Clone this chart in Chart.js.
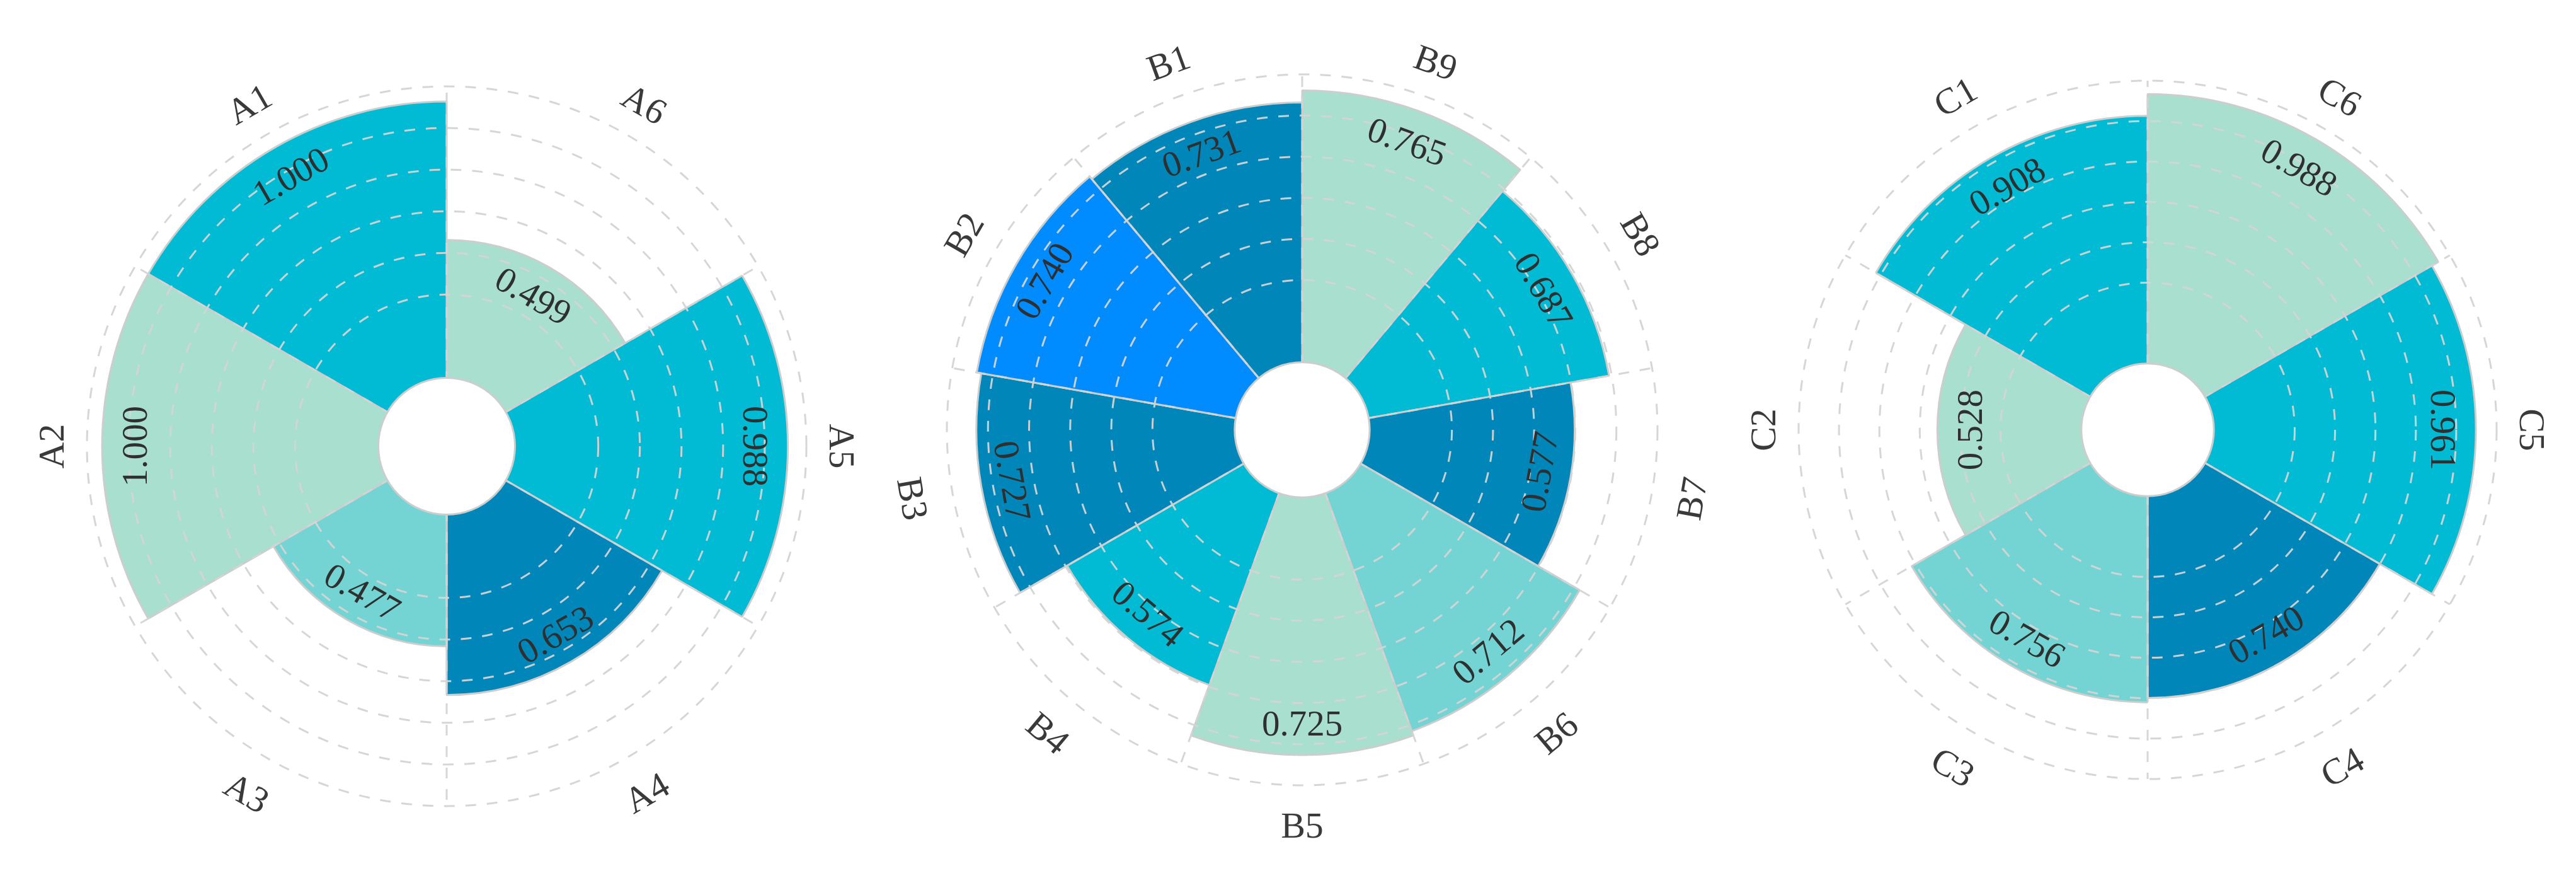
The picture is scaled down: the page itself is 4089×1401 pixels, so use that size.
<!DOCTYPE html>
<html>
<head>
<meta charset="utf-8">
<script src="https://cdn.jsdelivr.net/npm/chart.js@4.4.1/dist/chart.umd.min.js"></script>
<style>
  html, body { margin: 0; padding: 0; background: #ffffff; }
  #wrap { position: relative; width: 4089px; height: 1401px; overflow: hidden; background: #ffffff; }
  canvas { position: absolute; top: 0; }
</style>
</head>
<body>
<div id="wrap">
  <canvas id="chartA" width="1363" height="1401" style="left:0px"></canvas>
  <canvas id="chartB" width="1363" height="1401" style="left:1363px"></canvas>
  <canvas id="chartC" width="1363" height="1401" style="left:2726px"></canvas>
</div>
<script>
// ---------------- DATA ----------------
const categoriesA = ['A1', 'A2', 'A3', 'A4', 'A5', 'A6'];
const valuesA     = [1.000, 1.000, 0.477, 0.653, 0.988, 0.499];

const categoriesB = ['B1', 'B2', 'B3', 'B4', 'B5', 'B6', 'B7', 'B8', 'B9'];
const valuesB     = [0.731, 0.740, 0.727, 0.574, 0.725, 0.712, 0.577, 0.687, 0.765];

const categoriesC = ['C1', 'C2', 'C3', 'C4', 'C5', 'C6'];
const valuesC     = [0.908, 0.528, 0.756, 0.740, 0.961, 0.988];

// ---------------- STYLES ----------------
const CYAN = '#00bbd3', MINT = '#a9dfcf', TEAL = '#74d4d4', DARK = '#0086b8', BLUE = '#008cff';
const colorsA = [CYAN, MINT, TEAL, DARK, CYAN, MINT];
const colorsB = [DARK, BLUE, DARK, CYAN, MINT, TEAL, DARK, CYAN, MINT];
const colorsC = [CYAN, MINT, TEAL, DARK, CYAN, MINT];

const GRID_COLOR = 'rgba(212,212,212,0.95)';
const EDGE_COLOR = '#cdcdcd';
const HOLE_FRACTION = 0.19;   // inner hole radius / outer radius
const RING_COUNT = 7;          // ring divisions between hole and outer circle
const FIRST_RING = 2;
const TEXT_FONT = '"Liberation Serif", "Times New Roman", serif';

const overlayPlugin = {
  id: 'overlay',
  afterDraw(chart) {
    const scale = chart.scales.r;
    const ctx = chart.ctx;
    const cx = scale.xCenter, cy = scale.yCenter;
    const holeR = scale.getDistanceFromCenterForValue(0);
    ctx.save();
    // inner hole
    ctx.beginPath();
    ctx.arc(cx, cy, holeR, 0, Math.PI * 2);
    ctx.fillStyle = '#ffffff';
    ctx.fill();
    ctx.lineWidth = 3;
    ctx.strokeStyle = EDGE_COLOR;
    ctx.stroke();

    const labels = chart.data.labels;
    const data = chart.data.datasets[0].data;
    for (let i = 0; i < labels.length; i++) {
      const deg = scale.getIndexAngle(i + 0.5) * 180 / Math.PI;
      let rot = deg;
      if (deg > 90.5 && deg < 269.5) rot = deg - 180;
      const rad = rot * Math.PI / 180;
      // value label
      const pv = scale.getPointPosition(i + 0.5, scale.getDistanceFromCenterForValue(data[i]) - 51);
      ctx.save();
      ctx.translate(pv.x, pv.y);
      ctx.rotate(rad);
      ctx.font = '57px ' + TEXT_FONT;
      ctx.fillStyle = '#2f2f2f';
      ctx.textAlign = 'center';
      ctx.textBaseline = 'middle';
      ctx.fillText(data[i].toFixed(3), 0, 5);
      ctx.restore();
      // category label
      const pl = scale.getPointPosition(i + 0.5, scale.drawingArea + 60);
      ctx.save();
      ctx.translate(pl.x, pl.y);
      ctx.rotate(rad);
      ctx.font = '58px ' + TEXT_FONT;
      ctx.fillStyle = '#3a3a3a';
      ctx.textAlign = 'center';
      ctx.textBaseline = 'middle';
      ctx.fillText(labels[i], 0, 8);
      ctx.restore();
    }
    ctx.restore();
  }
};

function makeChart(id, cats, vals, colors, axisMax, pad) {
  // sectors are laid out clockwise from 12 o'clock, the reference reads counter-clockwise
  const labels = cats.slice().reverse();
  const data = vals.slice().reverse();
  const bg = colors.slice().reverse();
  const axisMin = -axisMax * HOLE_FRACTION / (1 - HOLE_FRACTION);
  const rings = [];
  for (let k = FIRST_RING; k <= RING_COUNT; k++) rings.push(axisMax * k / RING_COUNT);

  return new Chart(document.getElementById(id), {
    type: 'polarArea',
    data: {
      labels: labels,
      datasets: [{
        data: data,
        backgroundColor: bg,
        borderColor: EDGE_COLOR,
        borderWidth: 3
      }]
    },
    options: {
      responsive: false,
      animation: false,
      layout: { padding: pad },
      plugins: { legend: { display: false }, tooltip: { enabled: false } },
      scales: {
        r: {
          min: axisMin,
          max: axisMax,
          startAngle: 0,
          ticks: { display: false },
          pointLabels: { display: false },
          grid: { display: true, circular: true, color: GRID_COLOR, lineWidth: 3, z: 1 },
          border: { dash: [17, 17] },
          angleLines: { display: true, color: GRID_COLOR, lineWidth: 3, borderDash: [17, 17] },
          afterBuildTicks(scale) {
            scale.ticks = rings.map(v => ({ value: v }));
          }
        }
      }
    },
    plugins: [overlayPlugin]
  });
}

makeChart('chartA', categoriesA, valuesA, colorsA, 1.055, { left: 138, right: 83, top: 137, bottom: 122 });
makeChart('chartB', categoriesB, valuesB, colorsB, 0.81,  { left: 140, right: 95, top: 118, bottom: 155 });
makeChart('chartC', categoriesC, valuesC, colorsC, 1.037, { left: 129, right: 126, top: 128, bottom: 165 });
</script>
</body>
</html>
